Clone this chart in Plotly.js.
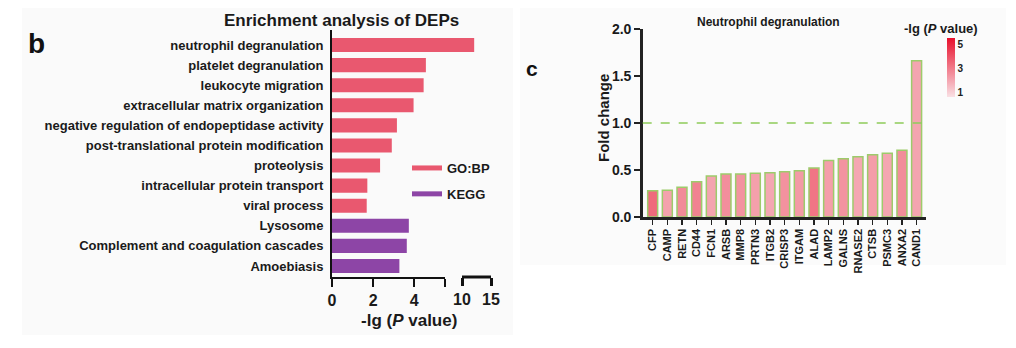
<!DOCTYPE html>
<html>
<head>
<meta charset="utf-8">
<script src="https://cdn.plot.ly/plotly-3.0.1.min.js"></script>
<style>html,body{margin:0;padding:0;background:#fff;}#chart{width:1016px;height:348px;}</style>
</head>
<body>
<div id="chart"></div>
<script>
// Panel b: enrichment analysis
const goTerms = ["neutrophil degranulation","platelet degranulation","leukocyte migration","extracellular matrix organization","negative regulation of endopeptidase activity","post-translational protein modification","proteolysis","intracellular protein transport","viral process"];
const goValues = [12.1, 4.57, 4.46, 3.97, 3.16, 2.91, 2.34, 1.72, 1.69];
const keggTerms = ["Lysosome","Complement and coagulation cascades","Amoebiasis"];
const keggValues = [3.74, 3.64, 3.28];
const xTickVals1 = [0, 2, 4, 5.5];
const xTickText1 = ["0", "2", "4", ""];
const xTickVals2 = [10, 15];

// Panel c: neutrophil degranulation
const genes = ["CFP","CAMP","RETN","CD44","FCN1","ARSB","MMP8","PRTN3","ITGB2","CRISP3","ITGAM","ALAD","LAMP2","GALNS","RNASE2","CTSB","PSMC3","ANXA2","CAND1"];
const foldChange = [0.28, 0.285, 0.316, 0.376, 0.436, 0.457, 0.457, 0.465, 0.47, 0.482, 0.493, 0.521, 0.60, 0.62, 0.64, 0.663, 0.677, 0.709, 1.663];
const negLogP = [3.38, 2.06, 2.60, 2.81, 2.01, 2.53, 2.41, 2.11, 1.94, 2.44, 2.25, 3.12, 2.15, 2.41, 1.94, 2.18, 1.97, 2.56, 1.99];
const fcTicks = [0, 0.5, 1.0, 1.5, 2.0];
const cbTicks = [1, 3, 5];

const W = 1016, H = 348;
const px = v => v / W;
const py = v => 1 - v / H;
const FONT = "Arial, 'Liberation Sans', sans-serif";
const GO_COLOR = "#E9586F";
const KEGG_COLOR = "#8D45A6";
const allTerms = goTerms.concat(keggTerms);

const traces = [
  {type:"bar", orientation:"h", x:goValues, y:goTerms, xaxis:"x", yaxis:"y", marker:{color:GO_COLOR}, width:0.7, showlegend:false, hoverinfo:"x+y"},
  {type:"bar", orientation:"h", x:keggValues, y:keggTerms, xaxis:"x", yaxis:"y", marker:{color:KEGG_COLOR}, width:0.7, showlegend:false},
  {type:"bar", orientation:"h", x:goValues, y:goTerms, xaxis:"x2", yaxis:"y", marker:{color:GO_COLOR}, width:0.7, showlegend:false},
  {type:"bar", orientation:"h", x:keggValues, y:keggTerms, xaxis:"x2", yaxis:"y", marker:{color:KEGG_COLOR}, width:0.7, showlegend:false},
  {type:"scatter", mode:"lines", x:[null], y:[null], xaxis:"x", yaxis:"y", name:"GO:BP", legendgroup:"g1", line:{color:GO_COLOR, width:5}},
  {type:"scatter", mode:"lines", x:[null], y:[null], xaxis:"x", yaxis:"y", name:"KEGG", legendgroup:"g2", line:{color:KEGG_COLOR, width:5}},
  {type:"bar", x:genes, y:foldChange, xaxis:"x3", yaxis:"y2", width:0.68, showlegend:false,
   marker:{color:negLogP, cmin:0.6, cmax:5.5, colorscale:[[0,"#F9E0E4"],[1,"#E8102C"]],
     line:{color:"#9DCB6B", width:1.5},
     colorbar:{x:px(947), xanchor:"left", y:py(67.5), yanchor:"middle", len:59, lenmode:"pixels",
       thickness:8, outlinewidth:0, tickvals:cbTicks, ticks:"", xpad:0, ypad:0,
       tickfont:{family:FONT, size:10, weight:700, color:"#222"}}}}
];

const axisFont = {family:FONT, size:16, weight:700, color:"#1a1a1a"};

const layout = {
  width:W, height:H, margin:{l:0,r:0,t:0,b:0},
  paper_bgcolor:"#ffffff", plot_bgcolor:"rgba(0,0,0,0)",
  barmode:"overlay", font:{family:FONT, color:"#1a1a1a"},
  showlegend:true,
  legend:{x:px(407), y:py(153), xanchor:"left", yanchor:"top", bgcolor:"rgba(0,0,0,0)",
    font:{family:FONT, size:13, weight:700, color:"#1a1a1a"}, tracegroupgap:6, itemwidth:30},
  xaxis:{domain:[px(332), px(445)], range:[0,5.5], anchor:"y", showline:true, linewidth:2, linecolor:"#111",
    ticks:"outside", ticklen:8, tickwidth:2, tickcolor:"#111", tickvals:xTickVals1, ticktext:xTickText1,
    tickfont:axisFont, showgrid:false, zeroline:false, fixedrange:true},
  xaxis2:{domain:[px(445), px(491)], range:[7.07,15], anchor:"y", showline:false,
    ticks:"outside", ticklen:8, tickwidth:3, tickcolor:"#111", tickvals:xTickVals2,
    tickfont:axisFont, showgrid:false, zeroline:false},
  yaxis:{domain:[py(277), py(30)], type:"category", categoryorder:"array", categoryarray:allTerms,
    range:[11.55,-0.75], anchor:"x", showline:true, linewidth:2, linecolor:"#111", ticks:"",
    ticklabelstandoff:4, tickfont:{family:FONT, size:13, weight:700, color:"#1a1a1a"}, showgrid:false, zeroline:false},
  xaxis3:{domain:[px(642.7), px(926)], range:[-0.68,18.64], anchor:"y2", type:"category",
    showline:true, linewidth:2.5, linecolor:"#222", ticks:"outside", ticklen:5, tickwidth:1.5, tickcolor:"#222",
    tickangle:-90, tickfont:{family:FONT, size:11, weight:700, color:"#1a1a1a"}, showgrid:false, zeroline:false},
  yaxis2:{domain:[py(217), py(29)], range:[0,2], anchor:"x3", showline:true, linewidth:2.5, linecolor:"#222",
    ticks:"outside", ticklen:6, tickwidth:2, tickcolor:"#222", tickvals:fcTicks, tickformat:".1f",
    tickfont:{family:FONT, size:14, weight:700, color:"#1a1a1a"}, showgrid:false, zeroline:false},
  shapes:[
    {type:"rect", xref:"paper", yref:"paper", x0:px(22), x1:px(513), y0:py(335), y1:py(8), fillcolor:"#FAFAFA", line:{width:0}, layer:"below"},
    {type:"rect", xref:"paper", yref:"paper", x0:px(520), x1:px(1006), y0:py(265), y1:py(8), fillcolor:"#FBFBFB", line:{width:0}, layer:"below"},
    {type:"line", xref:"x2", yref:"paper", x0:10, x1:15, y0:py(277), y1:py(277), line:{color:"#111", width:3}},
    {type:"line", xref:"x3 domain", yref:"y2", x0:0, x1:1, y0:1, y1:1, line:{color:"#8FCB5A", width:1.5, dash:"dash"}}
  ],
  annotations:[
    {text:"b", xref:"paper", yref:"paper", x:px(36), y:py(43), xanchor:"center", yanchor:"middle", showarrow:false,
      font:{family:FONT, size:28, weight:700, color:"#111"}},
    {text:"Enrichment analysis of DEPs", xref:"paper", yref:"paper", x:px(341), y:py(21), xanchor:"center", yanchor:"middle", showarrow:false,
      font:{family:FONT, size:17, weight:700, color:"#1a1a1a"}},
    {text:"-lg (<i>P</i> value)", xref:"paper", yref:"paper", x:px(409), y:py(320), xanchor:"center", yanchor:"middle", showarrow:false,
      font:{family:FONT, size:17, weight:700, color:"#1a1a1a"}},
    {text:"c", xref:"paper", yref:"paper", x:px(532), y:py(68), xanchor:"center", yanchor:"middle", showarrow:false,
      font:{family:FONT, size:21, weight:700, color:"#111"}},
    {text:"Neutrophil degranulation", xref:"paper", yref:"paper", x:px(768), y:py(22), xanchor:"center", yanchor:"middle", showarrow:false,
      font:{family:FONT, size:12, weight:700, color:"#1a1a1a"}},
    {text:"Fold change", xref:"paper", yref:"paper", x:px(604), y:py(118), xanchor:"center", yanchor:"middle", textangle:-90, showarrow:false,
      font:{family:FONT, size:15, weight:700, color:"#1a1a1a"}},
    {text:"-lg (<i>P</i> value)", xref:"paper", yref:"paper", x:px(941), y:py(28), xanchor:"center", yanchor:"middle", showarrow:false,
      font:{family:FONT, size:13, weight:700, color:"#1a1a1a"}}
  ]
};

Plotly.newPlot("chart", traces, layout, {staticPlot:true, displayModeBar:false});
</script>
</body>
</html>
